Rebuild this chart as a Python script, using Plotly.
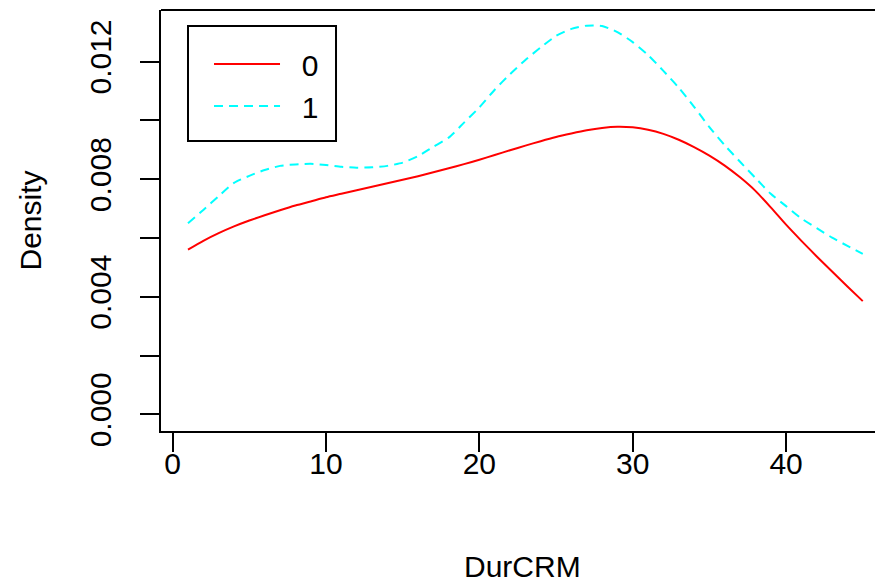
import plotly.graph_objects as go

# DurCRM grid (x) and kernel density estimates per group
dur_crm = list(range(1, 46))
density_0 = [0.00560, 0.00590, 0.00616, 0.00639, 0.00659, 0.00677, 0.00694, 0.00710, 0.00724, 0.00738,
             0.00750, 0.00762, 0.00774, 0.00786, 0.00798, 0.00810, 0.00823, 0.00837, 0.00851, 0.00866,
             0.00882, 0.00898, 0.00914, 0.00929, 0.00943, 0.00955, 0.00966, 0.00974, 0.00978, 0.00976,
             0.00968, 0.00954, 0.00934, 0.00909, 0.00880, 0.00846, 0.00806, 0.00760, 0.00704, 0.00645,
             0.00590, 0.00537, 0.00486, 0.00435, 0.00385]
density_1 = [0.00650, 0.00695, 0.00742, 0.00787, 0.00811, 0.00831, 0.00845, 0.00850, 0.00852, 0.00848,
             0.00842, 0.00839, 0.00840, 0.00845, 0.00856, 0.00878, 0.00910, 0.00941, 0.00992, 0.01044,
             0.01104, 0.01157, 0.01205, 0.01248, 0.01287, 0.01311, 0.01322, 0.01321, 0.01300, 0.01266,
             0.01222, 0.01168, 0.01111, 0.01046, 0.00977, 0.00915, 0.00859, 0.00804, 0.00750, 0.00708,
             0.00666, 0.00633, 0.00601, 0.00573, 0.00546]
group_names = ["0", "1"]

x_tickvals = [0, 10, 20, 30, 40]
y_tickvals = [0.000, 0.002, 0.004, 0.006, 0.008, 0.010, 0.012]
y_ticktext = ["0.000", "", "0.004", "", "0.008", "", "0.012"]

FONT = "Liberation Sans, Arial, sans-serif"
FS = 30

fig = go.Figure()
fig.add_trace(go.Scatter(x=dur_crm, y=density_0, mode="lines", name="  " + group_names[0],
                         line=dict(color="#FF0000", width=2, shape="spline", smoothing=0.6)))
fig.add_trace(go.Scatter(x=dur_crm, y=density_1, mode="lines", name="  " + group_names[1],
                         line=dict(color="#00FFFF", width=2, dash="9px,6px",
                                   shape="spline", smoothing=0.6)))

fig.update_layout(
    width=875, height=580,
    margin=dict(l=153, r=0, t=2, b=157),
    paper_bgcolor="white", plot_bgcolor="white",
    font=dict(family=FONT, size=FS, color="black"),
    showlegend=True,
    legend=dict(x=0.0665, y=0.9335, xanchor="left", yanchor="top",
                borderwidth=0, bgcolor="rgba(0,0,0,0)",
                font=dict(family=FONT, size=FS, color="black"),
                itemwidth=66, tracegroupgap=0),
    xaxis=dict(range=[-0.76, 46.32], tickvals=x_tickvals, ticks="outside", ticklen=19,
               tickwidth=2, tickcolor="black", showgrid=False, zeroline=False,
               showline=True, linecolor="black", linewidth=2, ticklabelstandoff=-14,
               tickfont=dict(family=FONT, size=FS, color="black")),
    yaxis=dict(range=[-0.000568, 0.013752], tickvals=y_tickvals, ticktext=y_ticktext,
               ticks="outside", ticklen=19, tickwidth=2, tickcolor="black",
               tickangle=-90, showgrid=False, zeroline=False, ticklabelstandoff=17,
               showline=True, linecolor="black", linewidth=2,
               tickfont=dict(family=FONT, size=FS, color="black")),
    annotations=[
        dict(text="DurCRM", xref="paper", yref="paper", x=0.5, y=-0.323,
             xanchor="center", yanchor="middle", showarrow=False,
             font=dict(family=FONT, size=FS, color="black")),
        dict(text="Density", xref="paper", yref="paper", x=-0.1814, y=0.5,
             xanchor="center", yanchor="middle", showarrow=False, textangle=-90,
             font=dict(family=FONT, size=FS, color="black")),
    ],
    shapes=[
        dict(type="line", xref="paper", yref="paper", x0=0, x1=1, y0=1, y1=1,
             line=dict(color="black", width=2)),
        dict(type="rect", xref="paper", yref="paper", x0=0.0374, x1=0.2424, y0=0.6888, y1=0.962,
             line=dict(color="black", width=2), fillcolor="white", layer="above"),
    ],
)

fig.write_html("out.html")
